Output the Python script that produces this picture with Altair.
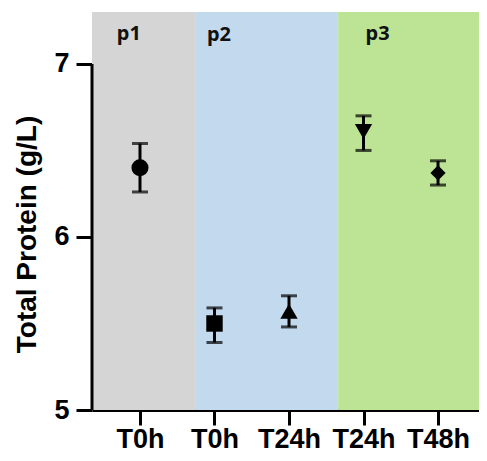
import json
import altair as alt
import pandas as pd

# ---- data ----
labels = ["T0h", "T0h", "T24h", "T24h", "T48h"]
means = [6.40, 5.50, 5.57, 6.61, 6.37]
lows = [6.26, 5.39, 5.48, 6.50, 6.30]
highs = [6.54, 5.59, 5.66, 6.70, 6.44]
shapes = ["circle", "square", "triangle-up", "triangle-down", "diamond"]
sizes = [290, 270, 300, 300, 230]

panels = ["p1", "p2", "p3"]
panel_start = [-0.644, 0.75, 2.66]
panel_end = [0.75, 2.66, 4.55]
panel_colors = ["#d5d5d5", "#c2d9ee", "#bde394"]
panel_label_x = [-0.15, 1.06, 3.19]
panel_label_y = [7.175, 7.165, 7.175]

X_DOMAIN = [-0.644, 4.55]
Y_DOMAIN = [5, 7.3]

pts = pd.DataFrame({
    "idx": list(range(len(labels))),
    "label": labels,
    "mean": means,
    "lo": lows,
    "hi": highs,
    "shape": shapes,
    "size": sizes,
})
bg = pd.DataFrame({
    "panel": panels,
    "x0": panel_start,
    "x1": panel_end,
    "color": panel_colors,
    "lx": panel_label_x,
    "ly": panel_label_y,
})

label_expr = json.dumps(labels) + "[round(datum.value)]"

xscale = alt.Scale(domain=X_DOMAIN, nice=False, zero=False)
yscale = alt.Scale(domain=Y_DOMAIN, nice=False, zero=False)

x_axis = alt.Axis(
    values=list(range(len(labels))), labelExpr=label_expr, title=None,
    grid=False, domain=True, domainColor="black", domainWidth=3,
    ticks=True, tickColor="black", tickWidth=3, tickSize=15,
    labelFont="Liberation Sans", labelFontWeight="bold", labelFontSize=27,
    labelColor="black", labelPadding=1, labelFlush=False, labelOverlap=False,
)
y_axis = alt.Axis(
    values=[5, 6, 7], format="d", title="Total Protein (g/L)", grid=False,
    domain=False, ticks=True, tickColor="black", tickWidth=3, tickSize=16,
    labelFont="Liberation Sans", labelFontWeight="bold", labelFontSize=27,
    labelColor="black", labelPadding=7, labelFlush=False,
    titleFont="Liberation Sans", titleFontWeight="bold", titleFontSize=28,
    titleColor="black", titleAngle=270, titleAlign="center",
    titleBaseline="middle", titleX=-65, titleY=222,
)

base_bg = alt.Chart(bg)
rects = base_bg.mark_rect().encode(
    x=alt.X("x0:Q", scale=xscale, axis=x_axis),
    x2="x1",
    y=alt.Y("y0:Q", scale=yscale, axis=y_axis),
    y2="y1",
    color=alt.Color("color:N", scale=None, legend=None),
).transform_calculate(y0="5", y1="7.3")

ptexts = base_bg.mark_text(
    font="Noto Sans", fontWeight="bold", fontSize=20, color="#111111",
    align="center", baseline="middle",
).encode(
    x=alt.X("lx:Q", scale=xscale),
    y=alt.Y("ly:Q", scale=yscale),
    text="panel:N",
)

yline = alt.Chart(pd.DataFrame({"a": [5], "b": [7]})).mark_rule(
    color="black", strokeWidth=3
).encode(x=alt.value(0), y=alt.Y("a:Q", scale=yscale), y2="b")

base = alt.Chart(pts)
bars = base.mark_rule(color="black", strokeWidth=3).encode(
    x=alt.X("idx:Q", scale=xscale),
    y=alt.Y("lo:Q", scale=yscale),
    y2="hi",
)
cap_lo = base.mark_tick(color="black", thickness=3, size=16, orient="horizontal").encode(
    x=alt.X("idx:Q", scale=xscale), y=alt.Y("lo:Q", scale=yscale)
)
cap_hi = base.mark_tick(color="black", thickness=3, size=16, orient="horizontal").encode(
    x=alt.X("idx:Q", scale=xscale), y=alt.Y("hi:Q", scale=yscale)
)
points = base.mark_point(filled=True, color="black", opacity=1).encode(
    x=alt.X("idx:Q", scale=xscale),
    y=alt.Y("mean:Q", scale=yscale),
    shape=alt.Shape("shape:N", scale=None, legend=None),
    size=alt.Size("size:Q", scale=None, legend=None),
)

chart = alt.layer(rects, ptexts, yline, bars, cap_lo, cap_hi, points).properties(
    width=387, height=398,
    autosize=alt.AutoSizeParams(type="none"),
    padding={"left": 84, "top": 4, "right": 0, "bottom": 43},
    background="white",
).configure_view(stroke=None)

chart.save("out.html", embed_options={"renderer": "svg", "actions": False})
